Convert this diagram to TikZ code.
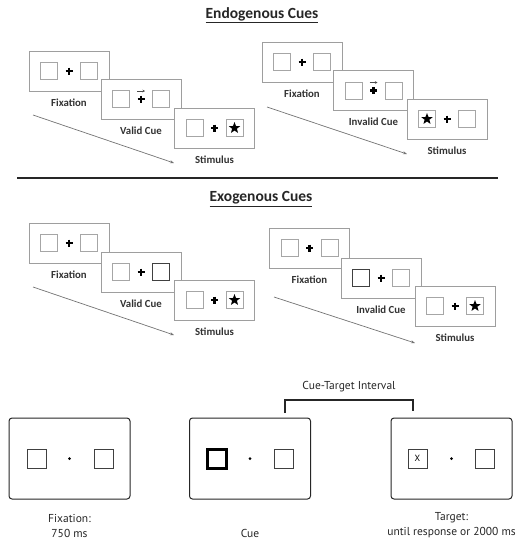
\documentclass[tikz,border=0pt]{standalone}
\usepackage{fontspec}
\setmainfont{Carlito}
\newfontfamily\bottomfont{PT Sans}
\usetikzlibrary{calc,shapes.geometric,arrows.meta}

\tikzset{
  scr/.style={draw=black!38, fill=white, line width=0.9pt, minimum width=80pt, minimum height=40pt, inner sep=0pt},
  sqr/.style={draw=black!35, line width=0.8pt, minimum size=17pt, inner sep=0pt},
  cuebox/.style={sqr, draw=black!75, line width=1.3pt},
  lbl/.style={font=\fontsize{10.8}{12}\selectfont\bfseries, text=black!80},
  ttl/.style={font=\fontsize{15.5}{18}\selectfont\bfseries, text=black!85},
  starmark/.style={star, star points=5, star point ratio=2.4, fill=black, minimum size=12pt, inner sep=0pt},
  seq/.style={-{Stealth[length=4pt,width=3pt]}, black!55, line width=0.7pt},
  bscr/.style={draw=black!85, fill=white, rounded corners=3pt, line width=1pt, minimum width=121pt, minimum height=81pt, inner sep=0pt},
  bsqr/.style={draw=black!75, line width=0.9pt, minimum size=19pt, inner sep=0pt},
  blbl/.style={font=\bottomfont\fontsize{11.5}{15}\selectfont, text=black!85, align=center}
}

% one screen of a trial: name, centre, label
\newcommand{\trialscreen}[3]{%
  \node[scr] (#1) at (#2) {};
  \node[sqr] (#1-l) at ($(#1.center)+(-20,0)$) {};
  \node[sqr] (#1-r) at ($(#1.center)+(20,0)$) {};
  \coordinate (#1-f) at (#1.center);
  \draw[line width=2.2pt] ($(#1-f)+(-3.5,0)$) -- ($(#1-f)+(3.5,0)$);
  \draw[line width=2.2pt] ($(#1-f)+(0,-3.5)$) -- ($(#1-f)+(0,3.5)$);
  \node[lbl] (#1-t) at ($(#1.south)+(0,11)$) {#3};
}

% arrow above the fixation cross
\newcommand{\arrowcue}[1]{%
  \draw[-{Stealth[length=2.5pt,width=2.5pt]}, black!70, line width=0.6pt]
    ($(#1-f)+(-4,-8)$) -- ($(#1-f)+(4,-8)$);
}

\begin{document}
\begin{tikzpicture}[x=1pt, y=-1pt]
  \useasboundingbox (0,0) rectangle (518,542);

  % Titres
  \node[ttl] (endoT) at (262,15) {\underline{Endogenous Cues}};
  \node[ttl] (exoT) at (261,199) {\underline{Exogenous Cues}};

  % Fleches de temps
  \coordinate (enL-a) at (33,115);  \coordinate (enL-b) at (174,163);
  \coordinate (enR-a) at (267,107); \coordinate (enR-b) at (407,154);
  \coordinate (exL-a) at (33,287);  \coordinate (exL-b) at (174,335);
  \coordinate (exR-a) at (274,297); \coordinate (exR-b) at (415,343);
  \draw[seq] (enL-a) -- (enL-b);
  \draw[seq] (enR-a) -- (enR-b);
  \draw[seq] (exL-a) -- (exL-b);
  \draw[seq] (exR-a) -- (exR-b);

  % Endogene, valide
  \trialscreen{enL1}{69,71}{Fixation}
  \trialscreen{enL2}{141,99}{Valid Cue}
  \arrowcue{enL2}
  \trialscreen{enL3}{214.5,128}{Stimulus}
  \node[starmark] (enL3-s) at (enL3-r) {};

  % Endogene, invalide
  \trialscreen{enR1}{302,62}{Fixation}
  \trialscreen{enR2}{373.5,90.5}{Invalid Cue}
  \arrowcue{enR2}
  \trialscreen{enR3}{447,119}{Stimulus}
  \node[starmark] (enR3-s) at (enR3-l) {};

  % Ligne de separation
  \coordinate (sepL) at (17,178); \coordinate (sepR) at (498,178);
  \draw[line width=2pt, black!85] (sepL) -- (sepR);

  % Exogene, valide
  \trialscreen{exL1}{69,243}{Fixation}
  \trialscreen{exL2}{141,272}{Valid Cue}
  \node[cuebox] (exL2-c) at (exL2-r) {};
  \trialscreen{exL3}{214.5,300}{Stimulus}
  \node[starmark] (exL3-s) at (exL3-r) {};

  % Exogene, invalide
  \trialscreen{exR1}{309.5,248}{Fixation}
  \trialscreen{exR2}{381,278}{Invalid Cue}
  \node[cuebox] (exR2-c) at (exR2-l) {};
  \trialscreen{exR3}{455,306}{Stimulus}
  \node[starmark] (exR3-s) at (exR3-r) {};

  % Sequence du bas
  \node[bscr] (bFix) at (69.5,458.5) {};
  \node[bsqr] (bFix-l) at ($(bFix.center)+(-33,0)$) {};
  \node[bsqr] (bFix-r) at ($(bFix.center)+(34,0)$) {};
  \fill (bFix.center) circle (1.5);
  \node[blbl] (bFix-t) at ($(bFix.center)+(0,67)$) {Fixation:\\750 ms};

  \node[bscr] (bCue) at (250,458.5) {};
  \node[bsqr, draw=black, line width=3pt] (bCue-l) at ($(bCue.center)+(-33.5,0)$) {};
  \node[bsqr] (bCue-r) at ($(bCue.center)+(33.5,0)$) {};
  \fill (bCue.center) circle (1.5);
  \node[blbl] (bCue-t) at ($(bCue.center)+(0,75)$) {Cue};

  \node[bscr] (bTgt) at (451.5,458.5) {};
  \node[bsqr, font=\bottomfont\fontsize{9}{10}\selectfont] (bTgt-l) at ($(bTgt.center)+(-34,0)$) {X};
  \node[bsqr] (bTgt-r) at ($(bTgt.center)+(33.5,0)$) {};
  \fill (bTgt.center) circle (1.5);
  \node[blbl] (bTgt-t) at ($(bTgt.center)+(0,67)$) {Target:\\until response or 2000 ms};

  % Intervalle indice-cible
  \coordinate (ctiL) at (285,413); \coordinate (ctiR) at (413,411);
  \draw[line width=1.4pt, black!85] (ctiL) -- ++(0,-13) -| (ctiR);
  \node[blbl] (ctiT) at (349,387) {Cue-Target Interval};
\end{tikzpicture}
\end{document}
